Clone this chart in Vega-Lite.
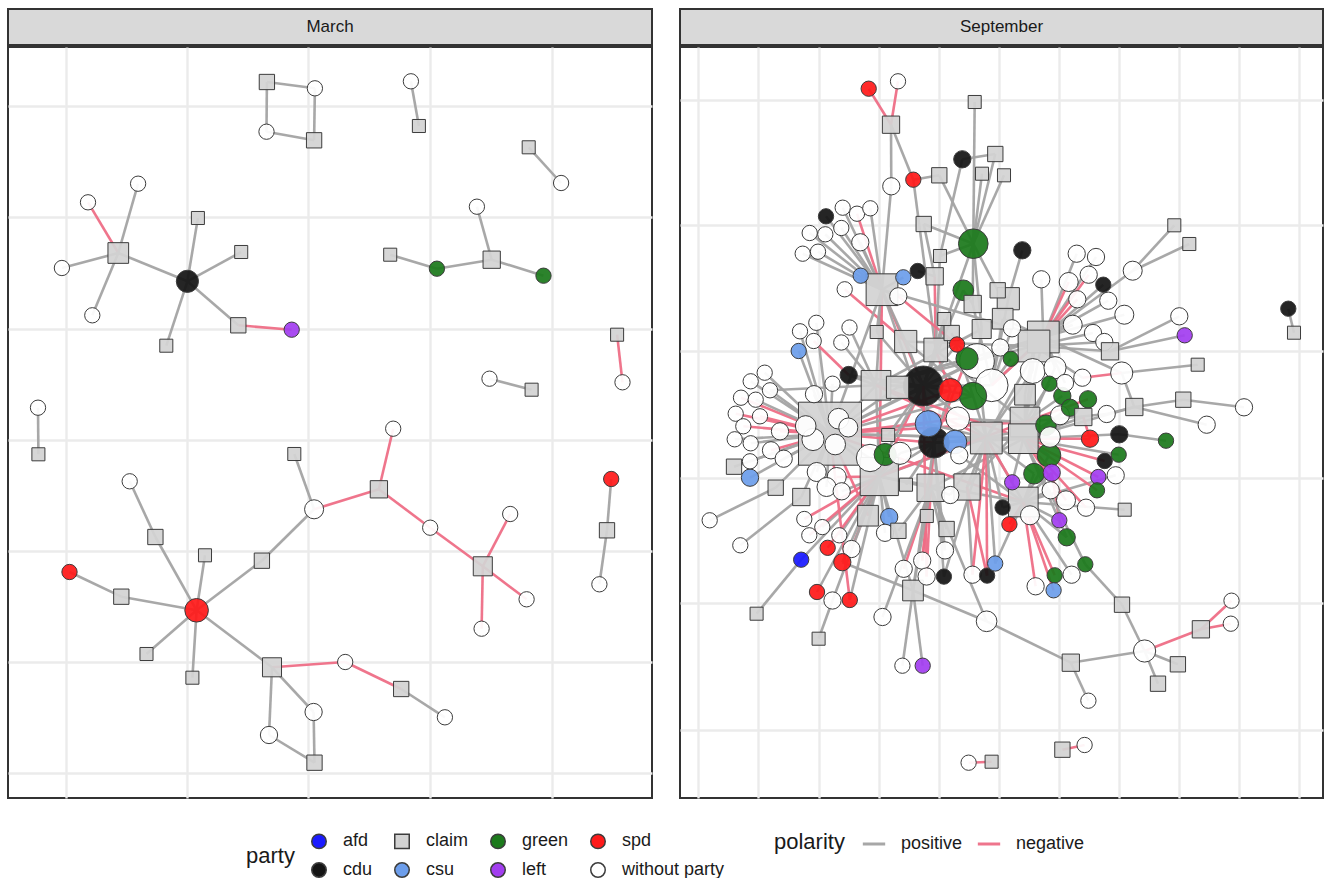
{
"$schema": "https://vega.github.io/schema/vega-lite/v6.json",
"padding": {"left": 7, "top": 8, "right": 0, "bottom": 0},
"config": {"font": "Liberation Sans", "view": {"stroke": "#333333", "strokeWidth": 2}},
"datasets": {
"mNodes": [
{"id":"m1","x":266.4,"y":80,"party":"claim","degree":2},
{"id":"m2","x":314.4,"y":86.3,"party":"without party","degree":2},
{"id":"m3","x":266,"y":129.7,"party":"without party","degree":2},
{"id":"m4","x":313.6,"y":138.3,"party":"claim","degree":2},
{"id":"m5","x":410.4,"y":79.3,"party":"without party","degree":2},
{"id":"m6","x":418.4,"y":124,"party":"claim","degree":1},
{"id":"m7","x":528.2,"y":145.3,"party":"claim","degree":1},
{"id":"m8","x":560.6,"y":181,"party":"without party","degree":2},
{"id":"m9","x":117.8,"y":251,"party":"claim","degree":5},
{"id":"m10","x":87.5,"y":200.3,"party":"without party","degree":2},
{"id":"m11","x":137.6,"y":181.7,"party":"without party","degree":2},
{"id":"m12","x":61.4,"y":266,"party":"without party","degree":2},
{"id":"m13","x":91.8,"y":313.3,"party":"without party","degree":2},
{"id":"m14","x":186.9,"y":279.3,"party":"cdu","degree":6},
{"id":"m15","x":197.4,"y":216,"party":"claim","degree":1},
{"id":"m16","x":240.7,"y":250,"party":"claim","degree":1},
{"id":"m17","x":237.8,"y":323.3,"party":"claim","degree":2},
{"id":"m18","x":291.2,"y":327.7,"party":"left","degree":2},
{"id":"m19","x":165.8,"y":343.7,"party":"claim","degree":1},
{"id":"m20","x":389.7,"y":252.7,"party":"claim","degree":1},
{"id":"m21","x":436.4,"y":266.7,"party":"green","degree":2},
{"id":"m22","x":491.2,"y":257.7,"party":"claim","degree":3},
{"id":"m23","x":476.4,"y":204.7,"party":"without party","degree":2},
{"id":"m24","x":543,"y":273.7,"party":"green","degree":2},
{"id":"m25","x":616.6,"y":332.7,"party":"claim","degree":1},
{"id":"m26","x":622,"y":380.3,"party":"without party","degree":2},
{"id":"m27","x":489,"y":376.7,"party":"without party","degree":2},
{"id":"m28","x":531.1,"y":387.7,"party":"claim","degree":1},
{"id":"m29","x":37.5,"y":405.7,"party":"without party","degree":2},
{"id":"m30","x":37.9,"y":452.3,"party":"claim","degree":1},
{"id":"m31","x":293.8,"y":452,"party":"claim","degree":1},
{"id":"m32","x":129.2,"y":479.3,"party":"without party","degree":2},
{"id":"m33","x":154.9,"y":535,"party":"claim","degree":2},
{"id":"m34","x":204.5,"y":553.3,"party":"claim","degree":1},
{"id":"m35","x":261.4,"y":558.7,"party":"claim","degree":2},
{"id":"m36","x":313.6,"y":507.3,"party":"without party","degree":4},
{"id":"m37","x":378.4,"y":487.3,"party":"claim","degree":3},
{"id":"m38","x":392.7,"y":426.7,"party":"without party","degree":2},
{"id":"m39","x":429.7,"y":525.7,"party":"without party","degree":2},
{"id":"m40","x":482.3,"y":564.3,"party":"claim","degree":4},
{"id":"m41","x":509.7,"y":512,"party":"without party","degree":2},
{"id":"m42","x":526.1,"y":597.3,"party":"without party","degree":2},
{"id":"m43","x":481.1,"y":626.7,"party":"without party","degree":2},
{"id":"m44","x":69,"y":570,"party":"spd","degree":2},
{"id":"m45","x":120.8,"y":594.7,"party":"claim","degree":2},
{"id":"m46","x":196.1,"y":608.3,"party":"spd","degree":7},
{"id":"m47","x":146,"y":652,"party":"claim","degree":1},
{"id":"m48","x":191.9,"y":675.7,"party":"claim","degree":1},
{"id":"m49","x":271.5,"y":665.3,"party":"claim","degree":4},
{"id":"m50","x":344.7,"y":660,"party":"without party","degree":2},
{"id":"m51","x":400.7,"y":687,"party":"claim","degree":2},
{"id":"m52","x":444.4,"y":715.3,"party":"without party","degree":2},
{"id":"m53","x":313.1,"y":710,"party":"without party","degree":3},
{"id":"m54","x":268.5,"y":733,"party":"without party","degree":3},
{"id":"m55","x":314,"y":760.7,"party":"claim","degree":2},
{"id":"m56","x":610.7,"y":477,"party":"spd","degree":2},
{"id":"m57","x":606.5,"y":528.3,"party":"claim","degree":2},
{"id":"m58","x":598.9,"y":582.3,"party":"without party","degree":2}
],
"mEdges": [
{"source":"m1","target":"m2","polarity":"positive"},
{"source":"m1","target":"m3","polarity":"positive"},
{"source":"m2","target":"m4","polarity":"positive"},
{"source":"m3","target":"m4","polarity":"positive"},
{"source":"m5","target":"m6","polarity":"positive"},
{"source":"m7","target":"m8","polarity":"positive"},
{"source":"m9","target":"m10","polarity":"negative"},
{"source":"m9","target":"m11","polarity":"positive"},
{"source":"m9","target":"m12","polarity":"positive"},
{"source":"m9","target":"m13","polarity":"positive"},
{"source":"m9","target":"m14","polarity":"positive"},
{"source":"m14","target":"m15","polarity":"positive"},
{"source":"m14","target":"m16","polarity":"positive"},
{"source":"m14","target":"m17","polarity":"positive"},
{"source":"m14","target":"m19","polarity":"positive"},
{"source":"m17","target":"m18","polarity":"negative"},
{"source":"m20","target":"m21","polarity":"positive"},
{"source":"m21","target":"m22","polarity":"positive"},
{"source":"m22","target":"m23","polarity":"positive"},
{"source":"m22","target":"m24","polarity":"positive"},
{"source":"m25","target":"m26","polarity":"negative"},
{"source":"m27","target":"m28","polarity":"positive"},
{"source":"m29","target":"m30","polarity":"positive"},
{"source":"m31","target":"m36","polarity":"positive"},
{"source":"m32","target":"m33","polarity":"positive"},
{"source":"m33","target":"m46","polarity":"positive"},
{"source":"m34","target":"m46","polarity":"positive"},
{"source":"m35","target":"m46","polarity":"positive"},
{"source":"m35","target":"m36","polarity":"positive"},
{"source":"m36","target":"m37","polarity":"negative"},
{"source":"m37","target":"m38","polarity":"negative"},
{"source":"m37","target":"m39","polarity":"negative"},
{"source":"m39","target":"m40","polarity":"negative"},
{"source":"m40","target":"m41","polarity":"negative"},
{"source":"m40","target":"m42","polarity":"negative"},
{"source":"m40","target":"m43","polarity":"negative"},
{"source":"m44","target":"m45","polarity":"positive"},
{"source":"m45","target":"m46","polarity":"positive"},
{"source":"m46","target":"m47","polarity":"positive"},
{"source":"m46","target":"m48","polarity":"positive"},
{"source":"m46","target":"m49","polarity":"positive"},
{"source":"m49","target":"m50","polarity":"negative"},
{"source":"m50","target":"m51","polarity":"negative"},
{"source":"m51","target":"m52","polarity":"positive"},
{"source":"m49","target":"m53","polarity":"positive"},
{"source":"m49","target":"m54","polarity":"positive"},
{"source":"m53","target":"m55","polarity":"positive"},
{"source":"m54","target":"m55","polarity":"positive"},
{"source":"m56","target":"m57","polarity":"positive"},
{"source":"m57","target":"m58","polarity":"positive"}
],
"sNodes": [
{"id":"s1","x":868.7,"y":86.7,"party":"spd","degree":2},
{"id":"s2","x":898,"y":79.3,"party":"without party","degree":2},
{"id":"s3","x":891,"y":122.7,"party":"claim","degree":3},
{"id":"s4","x":891.3,"y":184.3,"party":"without party","degree":3},
{"id":"s5","x":913.3,"y":177.7,"party":"spd","degree":2},
{"id":"s6","x":939.3,"y":173.3,"party":"claim","degree":2},
{"id":"s7","x":974.7,"y":100,"party":"claim","degree":1},
{"id":"s8","x":962.3,"y":157.3,"party":"cdu","degree":3},
{"id":"s9","x":995.3,"y":152,"party":"claim","degree":2},
{"id":"s10","x":982,"y":171.7,"party":"claim","degree":1},
{"id":"s11","x":1004,"y":173.3,"party":"claim","degree":1},
{"id":"s12","x":923.7,"y":222,"party":"claim","degree":2},
{"id":"s13","x":973.3,"y":241.7,"party":"green","degree":12},
{"id":"s14","x":940,"y":254,"party":"claim","degree":1},
{"id":"s15","x":917.7,"y":269,"party":"cdu","degree":2},
{"id":"s16","x":934.7,"y":274.3,"party":"claim","degree":3},
{"id":"s17","x":963.3,"y":288.3,"party":"green","degree":5},
{"id":"s18","x":997.7,"y":288.3,"party":"claim","degree":2},
{"id":"s19","x":972.7,"y":302,"party":"claim","degree":3},
{"id":"s20","x":981.7,"y":327,"party":"claim","degree":4},
{"id":"s21","x":944.3,"y":317,"party":"claim","degree":1},
{"id":"s22","x":951.7,"y":331,"party":"claim","degree":2},
{"id":"s23","x":898.3,"y":294.3,"party":"without party","degree":3},
{"id":"s24","x":860.7,"y":273.7,"party":"csu","degree":2},
{"id":"s25","x":903.3,"y":275.3,"party":"csu","degree":2},
{"id":"s26","x":882,"y":287.7,"party":"claim","degree":14},
{"id":"s27","x":826,"y":214.3,"party":"cdu","degree":2},
{"id":"s28","x":842.7,"y":205.7,"party":"without party","degree":2},
{"id":"s29","x":857,"y":211.7,"party":"without party","degree":2},
{"id":"s30","x":870.3,"y":206.3,"party":"without party","degree":2},
{"id":"s31","x":809.7,"y":231,"party":"without party","degree":2},
{"id":"s32","x":825.3,"y":232.3,"party":"without party","degree":2},
{"id":"s33","x":841.3,"y":226,"party":"without party","degree":2},
{"id":"s34","x":860.3,"y":240.3,"party":"without party","degree":3},
{"id":"s35","x":802.7,"y":251.7,"party":"without party","degree":2},
{"id":"s36","x":818,"y":249.7,"party":"without party","degree":2},
{"id":"s37","x":844.7,"y":287.3,"party":"without party","degree":2},
{"id":"s38","x":800,"y":329.3,"party":"without party","degree":2},
{"id":"s39","x":816.3,"y":320.8,"party":"without party","degree":2},
{"id":"s40","x":849.5,"y":325.5,"party":"without party","degree":2},
{"id":"s41","x":841.3,"y":340.5,"party":"without party","degree":2},
{"id":"s42","x":813.7,"y":339,"party":"without party","degree":2},
{"id":"s43","x":876.7,"y":330,"party":"claim","degree":1},
{"id":"s44","x":905.7,"y":339.5,"party":"claim","degree":6},
{"id":"s45","x":935.7,"y":348,"party":"claim","degree":7},
{"id":"s46","x":957,"y":342.5,"party":"spd","degree":2},
{"id":"s50","x":1012,"y":326.3,"party":"without party","degree":3},
{"id":"s51","x":1000.3,"y":345.5,"party":"without party","degree":3},
{"id":"s52","x":1010.8,"y":356.8,"party":"green","degree":2},
{"id":"s53","x":798.7,"y":349,"party":"csu","degree":2},
{"id":"s54","x":848.7,"y":373,"party":"cdu","degree":3},
{"id":"s55","x":832.5,"y":381.7,"party":"without party","degree":2},
{"id":"s56","x":814,"y":392.2,"party":"without party","degree":3},
{"id":"s57","x":876,"y":383.3,"party":"claim","degree":12},
{"id":"s58","x":897.5,"y":385.3,"party":"claim","degree":6},
{"id":"s59","x":923.3,"y":384,"party":"cdu","degree":23},
{"id":"s60","x":950.5,"y":388.3,"party":"spd","degree":7},
{"id":"s61","x":973,"y":394,"party":"green","degree":10},
{"id":"s62","x":991.7,"y":383.3,"party":"without party","degree":15},
{"id":"s63","x":977,"y":359,"party":"without party","degree":17},
{"id":"s64","x":967,"y":356.7,"party":"green","degree":6},
{"id":"s65","x":830,"y":431.7,"party":"claim","degree":60},
{"id":"s66","x":805.7,"y":424,"party":"without party","degree":5},
{"id":"s67","x":838.5,"y":416.7,"party":"without party","degree":5},
{"id":"s68","x":848.3,"y":425.5,"party":"without party","degree":4},
{"id":"s69","x":813,"y":437.5,"party":"without party","degree":6},
{"id":"s70","x":835.2,"y":442.5,"party":"without party","degree":5},
{"id":"s71","x":764.7,"y":370.7,"party":"without party","degree":2},
{"id":"s72","x":750.7,"y":379.3,"party":"without party","degree":2},
{"id":"s73","x":770,"y":388.3,"party":"without party","degree":2},
{"id":"s74","x":741,"y":395.7,"party":"without party","degree":2},
{"id":"s75","x":755.7,"y":397.7,"party":"without party","degree":2},
{"id":"s76","x":735.7,"y":411.7,"party":"without party","degree":2},
{"id":"s77","x":760,"y":414.3,"party":"without party","degree":2},
{"id":"s78","x":743.3,"y":424.3,"party":"without party","degree":2},
{"id":"s79","x":780,"y":429.3,"party":"without party","degree":3},
{"id":"s80","x":734.7,"y":437.3,"party":"without party","degree":2},
{"id":"s81","x":750.7,"y":441.3,"party":"without party","degree":2},
{"id":"s82","x":771,"y":448.3,"party":"without party","degree":3},
{"id":"s83","x":783.7,"y":456.7,"party":"without party","degree":3},
{"id":"s84","x":750,"y":459.3,"party":"without party","degree":2},
{"id":"s85","x":734,"y":464.7,"party":"claim","degree":2},
{"id":"s86","x":750,"y":475.7,"party":"csu","degree":3},
{"id":"s87","x":775.7,"y":485.7,"party":"claim","degree":2},
{"id":"s88","x":801.3,"y":495,"party":"claim","degree":3},
{"id":"s89","x":816.7,"y":470,"party":"without party","degree":4},
{"id":"s90","x":836.7,"y":475,"party":"without party","degree":4},
{"id":"s91","x":826.5,"y":485,"party":"without party","degree":4},
{"id":"s92","x":841.7,"y":489.3,"party":"without party","degree":3},
{"id":"s93","x":709.7,"y":518.3,"party":"without party","degree":2},
{"id":"s94","x":740.3,"y":543.3,"party":"without party","degree":2},
{"id":"s95","x":870,"y":456,"party":"without party","degree":10},
{"id":"s96","x":885.2,"y":452.5,"party":"green","degree":6},
{"id":"s97","x":900,"y":451.3,"party":"without party","degree":6},
{"id":"s98","x":879.3,"y":474.5,"party":"claim","degree":21},
{"id":"s99","x":928.3,"y":421.7,"party":"csu","degree":9},
{"id":"s100","x":934,"y":440.7,"party":"cdu","degree":13},
{"id":"s101","x":955,"y":440,"party":"csu","degree":7},
{"id":"s102","x":959.3,"y":453.3,"party":"without party","degree":3},
{"id":"s103","x":957.8,"y":416.7,"party":"without party","degree":7},
{"id":"s104","x":986.3,"y":436,"party":"claim","degree":14},
{"id":"s105","x":888.2,"y":433,"party":"claim","degree":1},
{"id":"s106","x":906,"y":482.7,"party":"claim","degree":1},
{"id":"s107","x":930.7,"y":485.8,"party":"claim","degree":10},
{"id":"s108","x":967,"y":485,"party":"claim","degree":9},
{"id":"s109","x":950.3,"y":493,"party":"without party","degree":3},
{"id":"s110","x":1012.2,"y":480.3,"party":"left","degree":2},
{"id":"s111","x":1002.6,"y":505.5,"party":"cdu","degree":2},
{"id":"s112","x":1009.4,"y":522.3,"party":"spd","degree":2},
{"id":"s113","x":868,"y":513.7,"party":"claim","degree":5},
{"id":"s114","x":889.2,"y":515,"party":"csu","degree":3},
{"id":"s115","x":885,"y":530.8,"party":"without party","degree":3},
{"id":"s116","x":898.4,"y":528.8,"party":"claim","degree":2},
{"id":"s117","x":926.8,"y":514,"party":"claim","degree":1},
{"id":"s118","x":946.6,"y":527,"party":"claim","degree":2},
{"id":"s119","x":945,"y":548.4,"party":"without party","degree":3},
{"id":"s120","x":804.3,"y":517,"party":"without party","degree":2},
{"id":"s121","x":822.3,"y":525.1,"party":"without party","degree":2},
{"id":"s122","x":809.3,"y":533.3,"party":"without party","degree":2},
{"id":"s123","x":839.3,"y":533.3,"party":"without party","degree":2},
{"id":"s124","x":851.5,"y":547,"party":"without party","degree":3},
{"id":"s125","x":827.7,"y":545.8,"party":"spd","degree":2},
{"id":"s126","x":842.3,"y":560.2,"party":"spd","degree":3},
{"id":"s127","x":801.2,"y":557.7,"party":"afd","degree":2},
{"id":"s128","x":903.7,"y":566.8,"party":"without party","degree":3},
{"id":"s129","x":922.2,"y":558.6,"party":"without party","degree":3},
{"id":"s130","x":926.6,"y":574.5,"party":"without party","degree":3},
{"id":"s131","x":943.9,"y":574.6,"party":"cdu","degree":2},
{"id":"s132","x":972.5,"y":572.7,"party":"without party","degree":3},
{"id":"s133","x":987.1,"y":573.6,"party":"cdu","degree":2},
{"id":"s134","x":995.2,"y":561.5,"party":"csu","degree":2},
{"id":"s135","x":913,"y":588.5,"party":"claim","degree":5},
{"id":"s136","x":817,"y":590,"party":"spd","degree":2},
{"id":"s137","x":832.5,"y":598.5,"party":"without party","degree":3},
{"id":"s138","x":849.8,"y":598,"party":"spd","degree":2},
{"id":"s139","x":756.6,"y":611.7,"party":"claim","degree":1},
{"id":"s140","x":818.6,"y":636.7,"party":"claim","degree":1},
{"id":"s141","x":882.5,"y":615,"party":"without party","degree":3},
{"id":"s142","x":902.4,"y":663.7,"party":"without party","degree":2},
{"id":"s143","x":922.7,"y":663.7,"party":"left","degree":2},
{"id":"s144","x":986.6,"y":619.3,"party":"without party","degree":5},
{"id":"s145","x":1070.8,"y":660.7,"party":"claim","degree":3},
{"id":"s146","x":1144.6,"y":649,"party":"without party","degree":6},
{"id":"s147","x":1122,"y":602.7,"party":"claim","degree":2},
{"id":"s148","x":1200.9,"y":627.3,"party":"claim","degree":3},
{"id":"s149","x":1231.5,"y":598.7,"party":"without party","degree":2},
{"id":"s150","x":1230.8,"y":621.7,"party":"without party","degree":2},
{"id":"s151","x":1177.9,"y":662.3,"party":"claim","degree":2},
{"id":"s152","x":1158,"y":681.7,"party":"claim","degree":2},
{"id":"s153","x":1088.4,"y":698.7,"party":"without party","degree":2},
{"id":"s154","x":968.6,"y":760.7,"party":"without party","degree":2},
{"id":"s155","x":991.6,"y":759.7,"party":"claim","degree":1},
{"id":"s156","x":1062.4,"y":747.7,"party":"claim","degree":2},
{"id":"s157","x":1084.6,"y":743,"party":"without party","degree":2},
{"id":"s158","x":1022.3,"y":248.3,"party":"cdu","degree":3},
{"id":"s159","x":1076.7,"y":251.7,"party":"without party","degree":3},
{"id":"s160","x":1096,"y":255,"party":"without party","degree":3},
{"id":"s161","x":1041.3,"y":277.3,"party":"without party","degree":3},
{"id":"s162","x":1068.7,"y":280,"party":"without party","degree":4},
{"id":"s163","x":1088.7,"y":272.7,"party":"without party","degree":3},
{"id":"s164","x":1103.3,"y":282.7,"party":"cdu","degree":2},
{"id":"s165","x":1077.3,"y":297.3,"party":"without party","degree":3},
{"id":"s166","x":1108.3,"y":298.7,"party":"without party","degree":3},
{"id":"s167","x":1124.3,"y":312.7,"party":"without party","degree":4},
{"id":"s168","x":1072.7,"y":322.7,"party":"without party","degree":4},
{"id":"s169","x":1093,"y":331,"party":"without party","degree":3},
{"id":"s170","x":1104.3,"y":340,"party":"without party","degree":3},
{"id":"s171","x":1132.7,"y":268.7,"party":"without party","degree":4},
{"id":"s172","x":1174.3,"y":223.3,"party":"claim","degree":1},
{"id":"s173","x":1189.3,"y":242,"party":"claim","degree":1},
{"id":"s174","x":1179.3,"y":314.3,"party":"without party","degree":3},
{"id":"s175","x":1184.7,"y":333.3,"party":"left","degree":2},
{"id":"s176","x":1110,"y":349.3,"party":"claim","degree":3},
{"id":"s177","x":1121.7,"y":371,"party":"without party","degree":6},
{"id":"s178","x":1197.7,"y":362.7,"party":"claim","degree":1},
{"id":"s179","x":1183.3,"y":397.7,"party":"claim","degree":2},
{"id":"s180","x":1244,"y":405.3,"party":"without party","degree":3},
{"id":"s181","x":1206.7,"y":422.7,"party":"without party","degree":3},
{"id":"s182","x":1134.3,"y":405,"party":"claim","degree":3},
{"id":"s183","x":1106.7,"y":412,"party":"without party","degree":3},
{"id":"s184","x":1082.3,"y":375.7,"party":"without party","degree":3},
{"id":"s185","x":1166,"y":438.7,"party":"green","degree":2},
{"id":"s186","x":1119.3,"y":432.3,"party":"cdu","degree":3},
{"id":"s187","x":1090,"y":436.7,"party":"spd","degree":3},
{"id":"s188","x":1118.7,"y":452.7,"party":"green","degree":2},
{"id":"s189","x":1104.7,"y":459,"party":"cdu","degree":2},
{"id":"s190","x":1098.3,"y":475,"party":"left","degree":2},
{"id":"s191","x":1115.7,"y":473.3,"party":"without party","degree":3},
{"id":"s192","x":1097,"y":488.3,"party":"green","degree":2},
{"id":"s193","x":1124.7,"y":507.7,"party":"claim","degree":1},
{"id":"s194","x":1288.3,"y":306.7,"party":"cdu","degree":2},
{"id":"s195","x":1294,"y":330.7,"party":"claim","degree":1},
{"id":"s197","x":1008.3,"y":296.7,"party":"claim","degree":6},
{"id":"s198","x":1002.7,"y":316.7,"party":"claim","degree":5},
{"id":"s199","x":1043.3,"y":335,"party":"claim","degree":14},
{"id":"s200","x":1034,"y":344,"party":"claim","degree":14},
{"id":"s201","x":1032.7,"y":369,"party":"without party","degree":8},
{"id":"s202","x":1055,"y":365.7,"party":"without party","degree":6},
{"id":"s203","x":1025,"y":392.7,"party":"claim","degree":5},
{"id":"s204","x":1049.3,"y":381.7,"party":"green","degree":2},
{"id":"s205","x":1062.3,"y":394,"party":"green","degree":3},
{"id":"s206","x":1070,"y":405.7,"party":"green","degree":3},
{"id":"s207","x":1088,"y":397.3,"party":"green","degree":3},
{"id":"s208","x":1065,"y":381,"party":"without party","degree":3},
{"id":"s209","x":1060,"y":413.3,"party":"without party","degree":4},
{"id":"s210","x":1025,"y":420,"party":"claim","degree":12},
{"id":"s211","x":1023.3,"y":436.7,"party":"claim","degree":12},
{"id":"s212","x":1046,"y":423.3,"party":"green","degree":5},
{"id":"s213","x":1050,"y":435,"party":"without party","degree":5},
{"id":"s214","x":1049,"y":453.3,"party":"green","degree":7},
{"id":"s215","x":1051.7,"y":470.7,"party":"left","degree":3},
{"id":"s216","x":1034,"y":471.7,"party":"green","degree":5},
{"id":"s218","x":1023.3,"y":500,"party":"claim","degree":12},
{"id":"s219","x":1050.7,"y":488.3,"party":"without party","degree":3},
{"id":"s220","x":1066,"y":498.3,"party":"without party","degree":4},
{"id":"s221","x":1086,"y":505.7,"party":"without party","degree":3},
{"id":"s223","x":1030,"y":513.3,"party":"without party","degree":4},
{"id":"s224","x":1059.3,"y":518.3,"party":"left","degree":2},
{"id":"s225","x":1066.7,"y":535.3,"party":"green","degree":3},
{"id":"s227","x":1085.3,"y":562.3,"party":"green","degree":2},
{"id":"s228","x":1054.7,"y":573.3,"party":"green","degree":2},
{"id":"s229","x":1071.6,"y":572.7,"party":"without party","degree":3},
{"id":"s230","x":1035.6,"y":584.3,"party":"without party","degree":3},
{"id":"s231","x":1053.6,"y":588.3,"party":"csu","degree":2},
{"id":"s236","x":1083.3,"y":415,"party":"claim","degree":3}
],
"sEdges": [
{"source":"s1","target":"s3","polarity":"negative"},
{"source":"s2","target":"s3","polarity":"negative"},
{"source":"s3","target":"s4","polarity":"positive"},
{"source":"s3","target":"s5","polarity":"positive"},
{"source":"s5","target":"s6","polarity":"positive"},
{"source":"s5","target":"s45","polarity":"positive"},
{"source":"s4","target":"s26","polarity":"positive"},
{"source":"s6","target":"s13","polarity":"positive"},
{"source":"s7","target":"s13","polarity":"positive"},
{"source":"s8","target":"s9","polarity":"positive"},
{"source":"s8","target":"s14","polarity":"positive"},
{"source":"s9","target":"s13","polarity":"positive"},
{"source":"s10","target":"s13","polarity":"positive"},
{"source":"s11","target":"s13","polarity":"positive"},
{"source":"s12","target":"s13","polarity":"positive"},
{"source":"s12","target":"s16","polarity":"positive"},
{"source":"s13","target":"s14","polarity":"positive"},
{"source":"s13","target":"s20","polarity":"positive"},
{"source":"s13","target":"s19","polarity":"positive"},
{"source":"s13","target":"s59","polarity":"positive"},
{"source":"s13","target":"s18","polarity":"positive"},
{"source":"s15","target":"s16","polarity":"positive"},
{"source":"s16","target":"s45","polarity":"negative"},
{"source":"s14","target":"s45","polarity":"positive"},
{"source":"s17","target":"s19","polarity":"positive"},
{"source":"s17","target":"s59","polarity":"positive"},
{"source":"s18","target":"s197","polarity":"positive"},
{"source":"s27","target":"s26","polarity":"positive"},
{"source":"s28","target":"s26","polarity":"positive"},
{"source":"s29","target":"s26","polarity":"negative"},
{"source":"s30","target":"s26","polarity":"positive"},
{"source":"s31","target":"s26","polarity":"positive"},
{"source":"s32","target":"s26","polarity":"positive"},
{"source":"s33","target":"s26","polarity":"positive"},
{"source":"s34","target":"s26","polarity":"positive"},
{"source":"s35","target":"s26","polarity":"positive"},
{"source":"s36","target":"s26","polarity":"positive"},
{"source":"s24","target":"s26","polarity":"positive"},
{"source":"s25","target":"s26","polarity":"positive"},
{"source":"s23","target":"s26","polarity":"positive"},
{"source":"s37","target":"s44","polarity":"negative"},
{"source":"s23","target":"s46","polarity":"negative"},
{"source":"s26","target":"s57","polarity":"positive"},
{"source":"s26","target":"s59","polarity":"negative"},
{"source":"s26","target":"s44","polarity":"positive"},
{"source":"s26","target":"s100","polarity":"positive"},
{"source":"s26","target":"s98","polarity":"negative"},
{"source":"s26","target":"s65","polarity":"positive"},
{"source":"s39","target":"s65","polarity":"positive"},
{"source":"s38","target":"s65","polarity":"positive"},
{"source":"s40","target":"s57","polarity":"positive"},
{"source":"s41","target":"s57","polarity":"positive"},
{"source":"s42","target":"s54","polarity":"negative"},
{"source":"s43","target":"s59","polarity":"positive"},
{"source":"s43","target":"s26","polarity":"positive"},
{"source":"s53","target":"s65","polarity":"positive"},
{"source":"s54","target":"s57","polarity":"positive"},
{"source":"s54","target":"s59","polarity":"positive"},
{"source":"s55","target":"s65","polarity":"positive"},
{"source":"s56","target":"s65","polarity":"positive"},
{"source":"s44","target":"s59","polarity":"positive"},
{"source":"s44","target":"s61","polarity":"positive"},
{"source":"s45","target":"s59","polarity":"positive"},
{"source":"s45","target":"s60","polarity":"negative"},
{"source":"s21","target":"s59","polarity":"positive"},
{"source":"s22","target":"s61","polarity":"positive"},
{"source":"s46","target":"s59","polarity":"positive"},
{"source":"s46","target":"s63","polarity":"positive"},
{"source":"s20","target":"s63","polarity":"positive"},
{"source":"s20","target":"s57","polarity":"positive"},
{"source":"s19","target":"s62","polarity":"positive"},
{"source":"s197","target":"s62","polarity":"positive"},
{"source":"s198","target":"s62","polarity":"positive"},
{"source":"s198","target":"s199","polarity":"positive"},
{"source":"s50","target":"s62","polarity":"positive"},
{"source":"s51","target":"s63","polarity":"positive"},
{"source":"s52","target":"s62","polarity":"positive"},
{"source":"s64","target":"s57","polarity":"positive"},
{"source":"s64","target":"s100","polarity":"negative"},
{"source":"s57","target":"s65","polarity":"positive"},
{"source":"s57","target":"s59","polarity":"positive"},
{"source":"s57","target":"s98","polarity":"positive"},
{"source":"s57","target":"s104","polarity":"negative"},
{"source":"s58","target":"s59","polarity":"positive"},
{"source":"s58","target":"s65","polarity":"positive"},
{"source":"s59","target":"s100","polarity":"positive"},
{"source":"s59","target":"s104","polarity":"positive"},
{"source":"s59","target":"s61","polarity":"positive"},
{"source":"s59","target":"s62","polarity":"positive"},
{"source":"s59","target":"s63","polarity":"positive"},
{"source":"s59","target":"s98","polarity":"negative"},
{"source":"s59","target":"s65","polarity":"positive"},
{"source":"s60","target":"s65","polarity":"negative"},
{"source":"s60","target":"s100","polarity":"positive"},
{"source":"s61","target":"s104","polarity":"positive"},
{"source":"s61","target":"s65","polarity":"positive"},
{"source":"s62","target":"s199","polarity":"positive"},
{"source":"s62","target":"s200","polarity":"negative"},
{"source":"s63","target":"s65","polarity":"positive"},
{"source":"s63","target":"s199","polarity":"positive"},
{"source":"s63","target":"s104","polarity":"positive"},
{"source":"s65","target":"s100","polarity":"negative"},
{"source":"s65","target":"s99","polarity":"positive"},
{"source":"s65","target":"s98","polarity":"positive"},
{"source":"s65","target":"s104","polarity":"positive"},
{"source":"s65","target":"s210","polarity":"negative"},
{"source":"s65","target":"s103","polarity":"negative"},
{"source":"s98","target":"s100","polarity":"positive"},
{"source":"s98","target":"s104","polarity":"positive"},
{"source":"s98","target":"s107","polarity":"positive"},
{"source":"s99","target":"s104","polarity":"positive"},
{"source":"s100","target":"s104","polarity":"positive"},
{"source":"s100","target":"s211","polarity":"positive"},
{"source":"s100","target":"s107","polarity":"negative"},
{"source":"s101","target":"s211","polarity":"positive"},
{"source":"s102","target":"s218","polarity":"positive"},
{"source":"s103","target":"s210","polarity":"positive"},
{"source":"s104","target":"s199","polarity":"positive"},
{"source":"s104","target":"s218","polarity":"positive"},
{"source":"s104","target":"s211","polarity":"positive"},
{"source":"s104","target":"s108","polarity":"positive"},
{"source":"s107","target":"s211","polarity":"positive"},
{"source":"s108","target":"s210","polarity":"positive"},
{"source":"s199","target":"s210","polarity":"positive"},
{"source":"s200","target":"s211","polarity":"positive"},
{"source":"s57","target":"s199","polarity":"positive"},
{"source":"s57","target":"s200","polarity":"positive"},
{"source":"s26","target":"s199","polarity":"positive"},
{"source":"s44","target":"s200","polarity":"positive"},
{"source":"s45","target":"s210","polarity":"positive"},
{"source":"s65","target":"s211","polarity":"positive"},
{"source":"s65","target":"s218","polarity":"negative"},
{"source":"s98","target":"s218","polarity":"positive"},
{"source":"s98","target":"s210","polarity":"negative"},
{"source":"s57","target":"s211","polarity":"negative"},
{"source":"s71","target":"s65","polarity":"positive"},
{"source":"s72","target":"s65","polarity":"positive"},
{"source":"s73","target":"s65","polarity":"positive"},
{"source":"s74","target":"s65","polarity":"negative"},
{"source":"s75","target":"s65","polarity":"positive"},
{"source":"s76","target":"s65","polarity":"negative"},
{"source":"s77","target":"s65","polarity":"negative"},
{"source":"s78","target":"s65","polarity":"negative"},
{"source":"s79","target":"s65","polarity":"negative"},
{"source":"s80","target":"s65","polarity":"positive"},
{"source":"s81","target":"s65","polarity":"positive"},
{"source":"s82","target":"s65","polarity":"negative"},
{"source":"s83","target":"s65","polarity":"positive"},
{"source":"s84","target":"s65","polarity":"positive"},
{"source":"s85","target":"s65","polarity":"positive"},
{"source":"s86","target":"s65","polarity":"positive"},
{"source":"s87","target":"s65","polarity":"positive"},
{"source":"s93","target":"s87","polarity":"positive"},
{"source":"s88","target":"s65","polarity":"positive"},
{"source":"s94","target":"s88","polarity":"positive"},
{"source":"s89","target":"s65","polarity":"positive"},
{"source":"s90","target":"s98","polarity":"negative"},
{"source":"s91","target":"s65","polarity":"positive"},
{"source":"s92","target":"s98","polarity":"positive"},
{"source":"s66","target":"s65","polarity":"positive"},
{"source":"s67","target":"s65","polarity":"positive"},
{"source":"s68","target":"s65","polarity":"positive"},
{"source":"s69","target":"s65","polarity":"positive"},
{"source":"s70","target":"s65","polarity":"positive"},
{"source":"s73","target":"s57","polarity":"positive"},
{"source":"s95","target":"s98","polarity":"positive"},
{"source":"s95","target":"s65","polarity":"positive"},
{"source":"s96","target":"s98","polarity":"positive"},
{"source":"s96","target":"s59","polarity":"positive"},
{"source":"s97","target":"s98","polarity":"positive"},
{"source":"s97","target":"s100","polarity":"positive"},
{"source":"s105","target":"s59","polarity":"positive"},
{"source":"s106","target":"s100","polarity":"positive"},
{"source":"s109","target":"s107","polarity":"positive"},
{"source":"s109","target":"s104","polarity":"positive"},
{"source":"s110","target":"s104","polarity":"negative"},
{"source":"s110","target":"s211","polarity":"positive"},
{"source":"s111","target":"s218","polarity":"positive"},
{"source":"s111","target":"s104","polarity":"positive"},
{"source":"s112","target":"s218","polarity":"negative"},
{"source":"s113","target":"s98","polarity":"positive"},
{"source":"s113","target":"s65","polarity":"negative"},
{"source":"s114","target":"s98","polarity":"positive"},
{"source":"s115","target":"s98","polarity":"positive"},
{"source":"s116","target":"s107","polarity":"positive"},
{"source":"s117","target":"s100","polarity":"positive"},
{"source":"s118","target":"s107","polarity":"positive"},
{"source":"s119","target":"s107","polarity":"positive"},
{"source":"s119","target":"s100","polarity":"positive"},
{"source":"s120","target":"s98","polarity":"negative"},
{"source":"s121","target":"s98","polarity":"positive"},
{"source":"s122","target":"s98","polarity":"negative"},
{"source":"s123","target":"s98","polarity":"positive"},
{"source":"s124","target":"s98","polarity":"negative"},
{"source":"s125","target":"s98","polarity":"negative"},
{"source":"s126","target":"s98","polarity":"positive"},
{"source":"s127","target":"s98","polarity":"positive"},
{"source":"s127","target":"s139","polarity":"positive"},
{"source":"s128","target":"s107","polarity":"negative"},
{"source":"s129","target":"s107","polarity":"negative"},
{"source":"s130","target":"s107","polarity":"negative"},
{"source":"s129","target":"s100","polarity":"negative"},
{"source":"s130","target":"s59","polarity":"negative"},
{"source":"s131","target":"s104","polarity":"positive"},
{"source":"s131","target":"s100","polarity":"positive"},
{"source":"s132","target":"s108","polarity":"positive"},
{"source":"s132","target":"s104","polarity":"negative"},
{"source":"s133","target":"s108","polarity":"negative"},
{"source":"s133","target":"s104","polarity":"negative"},
{"source":"s134","target":"s218","polarity":"positive"},
{"source":"s134","target":"s104","polarity":"positive"},
{"source":"s135","target":"s98","polarity":"positive"},
{"source":"s135","target":"s100","polarity":"positive"},
{"source":"s126","target":"s135","polarity":"positive"},
{"source":"s135","target":"s144","polarity":"positive"},
{"source":"s135","target":"s142","polarity":"positive"},
{"source":"s135","target":"s143","polarity":"positive"},
{"source":"s135","target":"s107","polarity":"positive"},
{"source":"s136","target":"s98","polarity":"positive"},
{"source":"s137","target":"s98","polarity":"positive"},
{"source":"s137","target":"s140","polarity":"positive"},
{"source":"s138","target":"s98","polarity":"positive"},
{"source":"s138","target":"s65","polarity":"negative"},
{"source":"s141","target":"s107","polarity":"positive"},
{"source":"s144","target":"s107","polarity":"positive"},
{"source":"s144","target":"s145","polarity":"positive"},
{"source":"s145","target":"s146","polarity":"positive"},
{"source":"s145","target":"s153","polarity":"positive"},
{"source":"s146","target":"s147","polarity":"positive"},
{"source":"s147","target":"s227","polarity":"positive"},
{"source":"s146","target":"s148","polarity":"negative"},
{"source":"s148","target":"s149","polarity":"negative"},
{"source":"s148","target":"s150","polarity":"negative"},
{"source":"s146","target":"s151","polarity":"positive"},
{"source":"s146","target":"s152","polarity":"positive"},
{"source":"s154","target":"s155","polarity":"negative"},
{"source":"s156","target":"s157","polarity":"negative"},
{"source":"s158","target":"s197","polarity":"positive"},
{"source":"s159","target":"s199","polarity":"positive"},
{"source":"s160","target":"s199","polarity":"positive"},
{"source":"s161","target":"s199","polarity":"positive"},
{"source":"s162","target":"s199","polarity":"negative"},
{"source":"s163","target":"s199","polarity":"negative"},
{"source":"s164","target":"s199","polarity":"positive"},
{"source":"s165","target":"s199","polarity":"negative"},
{"source":"s166","target":"s199","polarity":"positive"},
{"source":"s167","target":"s199","polarity":"positive"},
{"source":"s168","target":"s199","polarity":"positive"},
{"source":"s169","target":"s200","polarity":"positive"},
{"source":"s170","target":"s200","polarity":"positive"},
{"source":"s171","target":"s199","polarity":"positive"},
{"source":"s171","target":"s172","polarity":"positive"},
{"source":"s171","target":"s173","polarity":"positive"},
{"source":"s174","target":"s176","polarity":"positive"},
{"source":"s175","target":"s176","polarity":"positive"},
{"source":"s176","target":"s200","polarity":"positive"},
{"source":"s177","target":"s199","polarity":"positive"},
{"source":"s177","target":"s178","polarity":"positive"},
{"source":"s177","target":"s184","polarity":"negative"},
{"source":"s177","target":"s182","polarity":"positive"},
{"source":"s179","target":"s180","polarity":"positive"},
{"source":"s179","target":"s182","polarity":"positive"},
{"source":"s181","target":"s182","polarity":"positive"},
{"source":"s182","target":"s183","polarity":"positive"},
{"source":"s182","target":"s211","polarity":"positive"},
{"source":"s185","target":"s186","polarity":"positive"},
{"source":"s184","target":"s200","polarity":"positive"},
{"source":"s183","target":"s210","polarity":"positive"},
{"source":"s186","target":"s211","polarity":"positive"},
{"source":"s187","target":"s211","polarity":"negative"},
{"source":"s188","target":"s211","polarity":"positive"},
{"source":"s189","target":"s211","polarity":"negative"},
{"source":"s190","target":"s211","polarity":"negative"},
{"source":"s191","target":"s218","polarity":"positive"},
{"source":"s192","target":"s211","polarity":"negative"},
{"source":"s193","target":"s218","polarity":"positive"},
{"source":"s194","target":"s195","polarity":"positive"},
{"source":"s201","target":"s200","polarity":"positive"},
{"source":"s201","target":"s104","polarity":"positive"},
{"source":"s202","target":"s199","polarity":"positive"},
{"source":"s202","target":"s211","polarity":"positive"},
{"source":"s203","target":"s210","polarity":"positive"},
{"source":"s203","target":"s200","polarity":"positive"},
{"source":"s204","target":"s210","polarity":"positive"},
{"source":"s205","target":"s210","polarity":"positive"},
{"source":"s206","target":"s211","polarity":"positive"},
{"source":"s207","target":"s210","polarity":"negative"},
{"source":"s208","target":"s199","polarity":"positive"},
{"source":"s209","target":"s211","polarity":"positive"},
{"source":"s212","target":"s211","polarity":"positive"},
{"source":"s212","target":"s104","polarity":"positive"},
{"source":"s213","target":"s104","polarity":"positive"},
{"source":"s214","target":"s211","polarity":"positive"},
{"source":"s214","target":"s218","polarity":"positive"},
{"source":"s215","target":"s218","polarity":"positive"},
{"source":"s215","target":"s224","polarity":"negative"},
{"source":"s216","target":"s218","polarity":"positive"},
{"source":"s216","target":"s104","polarity":"positive"},
{"source":"s219","target":"s218","polarity":"positive"},
{"source":"s220","target":"s211","polarity":"negative"},
{"source":"s221","target":"s211","polarity":"negative"},
{"source":"s223","target":"s218","polarity":"positive"},
{"source":"s224","target":"s218","polarity":"positive"},
{"source":"s225","target":"s218","polarity":"positive"},
{"source":"s225","target":"s211","polarity":"positive"},
{"source":"s227","target":"s211","polarity":"positive"},
{"source":"s228","target":"s218","polarity":"negative"},
{"source":"s229","target":"s218","polarity":"positive"},
{"source":"s230","target":"s218","polarity":"negative"},
{"source":"s231","target":"s218","polarity":"negative"},
{"source":"s236","target":"s211","polarity":"positive"},
{"source":"s236","target":"s187","polarity":"negative"}
]
},
"resolve": {"scale": {"fill": "shared", "shape": "shared", "size": "shared", "stroke": "shared"}},
"spacing": 26,
"hconcat": [
{
"spacing": 0,
"resolve": {"scale": {"fill": "shared", "shape": "shared", "size": "shared", "stroke": "shared"}},
"vconcat": [
{"width": 644, "height": 36, "data": {"values": [{"label": "March"}]},
 "view": {"fill": "#d9d9d9", "stroke": "#333333", "strokeWidth": 2},
 "mark": {"type": "text", "fontSize": 17, "color": "#1a1a1a", "font": "Liberation Sans"},
 "encoding": {"text": {"field": "label"}}},
{"width": 644, "height": 751,
 "layer": [
  {"data": {"name": "mEdges"},
   "transform": [
    {"lookup": "source", "from": {"data": {"name": "mNodes"}, "key": "id", "fields": ["x", "y"]}, "as": ["sx", "sy"]},
    {"lookup": "target", "from": {"data": {"name": "mNodes"}, "key": "id", "fields": ["x", "y"]}, "as": ["tx", "ty"]}
   ],
   "mark": {"type": "rule", "strokeWidth": 2.6, "opacity": 0.95},
   "encoding": {
    "x": {"field": "sx", "type": "quantitative", "scale": {"domain": [7.5, 651.5], "nice": false, "zero": false}, "axis": {"values": [65.2, 186.5, 307.7, 429.3, 551], "grid": true, "labels": false, "ticks": false, "domain": false, "title": null, "gridColor": "#ebebeb", "gridWidth": 2.4}},
    "y": {"field": "sy", "type": "quantitative", "scale": {"domain": [45, 796], "nice": false, "zero": false, "reverse": true}, "axis": {"values": [104.3, 215.4, 326.5, 437.6, 548.7, 659.8, 770.9], "grid": true, "labels": false, "ticks": false, "domain": false, "title": null, "gridColor": "#ebebeb", "gridWidth": 2.4}},
    "x2": {"field": "tx"},
    "y2": {"field": "ty"},
    "stroke": {"field": "polarity", "type": "nominal", "scale": {"domain": ["positive", "negative"], "range": ["#a3a3a3", "#ee6e86"]},
      "legend": {"title": "polarity", "orient": "none", "legendX": 766, "legendY": 822, "direction": "horizontal", "titleOrient": "left", "titleFontSize": 22, "titleFontWeight": "normal", "titleColor": "#1a1a1a", "titlePadding": 16, "titleBaseline": "middle", "titleAnchor": "middle", "labelFontSize": 18, "labelColor": "#1a1a1a", "labelOffset": 14, "symbolType": "stroke", "symbolSize": 500, "symbolStrokeWidth": 3, "columnPadding": 8}}
   }},
  {"data": {"name": "mNodes"},
   "mark": {"type": "point", "filled": true, "stroke": "#3c3c3c", "strokeWidth": 1, "fillOpacity": 0.93},
   "encoding": {
    "x": {"field": "x", "type": "quantitative", "scale": {"domain": [7.5, 651.5], "nice": false, "zero": false}, "axis": {"values": [65.2, 186.5, 307.7, 429.3, 551], "grid": true, "labels": false, "ticks": false, "domain": false, "title": null, "gridColor": "#ebebeb", "gridWidth": 2.4}},
    "y": {"field": "y", "type": "quantitative", "scale": {"domain": [45, 796], "nice": false, "zero": false, "reverse": true}, "axis": {"values": [104.3, 215.4, 326.5, 437.6, 548.7, 659.8, 770.9], "grid": true, "labels": false, "ticks": false, "domain": false, "title": null, "gridColor": "#ebebeb", "gridWidth": 2.4}},
    "fill": {"field": "party", "type": "nominal", "scale": {"domain": ["afd", "claim", "green", "spd", "cdu", "csu", "left", "without party"], "range": ["#1a1aff", "#d3d3d3", "#1c7a1c", "#ff1a1a", "#141414", "#6d9eeb", "#a23ef0", "#ffffff"]},
      "legend": {"title": "party", "orient": "none", "legendX": 238, "legendY": 823, "direction": "horizontal", "columns": 4, "titleOrient": "left", "titleFontSize": 22, "titleFontWeight": "normal", "titleColor": "#1a1a1a", "titlePadding": 15, "titleBaseline": "middle", "titleAnchor": "middle", "labelFontSize": 18, "labelColor": "#1a1a1a", "labelOffset": 15, "symbolSize": 210, "columnPadding": 18, "rowPadding": 7,
        "encode": {"symbols": {"update": {"stroke": {"value": "#3c3c3c"}, "strokeWidth": {"value": 1}}}}}},
    "shape": {"field": "party", "type": "nominal", "scale": {"domain": ["afd", "claim", "green", "spd", "cdu", "csu", "left", "without party"], "range": ["circle", "square", "circle", "circle", "circle", "circle", "circle", "circle"]},
      "legend": {"title": "party", "orient": "none", "legendX": 238, "legendY": 823, "direction": "horizontal", "columns": 4, "titleOrient": "left", "titleFontSize": 22, "titleFontWeight": "normal", "titleColor": "#1a1a1a", "titlePadding": 15, "titleBaseline": "middle", "titleAnchor": "middle", "labelFontSize": 18, "labelColor": "#1a1a1a", "labelOffset": 15, "symbolSize": 210, "columnPadding": 18, "rowPadding": 7,
        "encode": {"symbols": {"update": {"stroke": {"value": "#3c3c3c"}, "strokeWidth": {"value": 1}}}}}},
    "size": {"field": "degree", "type": "quantitative", "scale": {"domain": [1, 60], "range": [170, 3969], "zero": false}, "legend": null},
    "order": {"field": "degree", "sort": "descending"}
   }}
 ]}
]
},
{
"spacing": 0,
"resolve": {"scale": {"fill": "shared", "shape": "shared", "size": "shared", "stroke": "shared"}},
"vconcat": [
{"width": 643, "height": 36, "data": {"values": [{"label": "September"}]},
 "view": {"fill": "#d9d9d9", "stroke": "#333333", "strokeWidth": 2},
 "mark": {"type": "text", "fontSize": 17, "color": "#1a1a1a", "font": "Liberation Sans"},
 "encoding": {"text": {"field": "label"}}},
{"width": 643, "height": 751,
 "layer": [
  {"data": {"name": "sEdges"},
   "transform": [
    {"lookup": "source", "from": {"data": {"name": "sNodes"}, "key": "id", "fields": ["x", "y"]}, "as": ["sx", "sy"]},
    {"lookup": "target", "from": {"data": {"name": "sNodes"}, "key": "id", "fields": ["x", "y"]}, "as": ["tx", "ty"]}
   ],
   "mark": {"type": "rule", "strokeWidth": 2.6, "opacity": 0.95},
   "encoding": {
    "x": {"field": "sx", "type": "quantitative", "scale": {"domain": [680, 1323], "nice": false, "zero": false}, "axis": {"values": [698.3, 758.3, 818.5, 879, 939, 999, 1059, 1119, 1179, 1239, 1298.5], "grid": true, "labels": false, "ticks": false, "domain": false, "title": null, "gridColor": "#ebebeb", "gridWidth": 2.4}},
    "y": {"field": "sy", "type": "quantitative", "scale": {"domain": [45, 796], "nice": false, "zero": false, "reverse": true}, "axis": {"values": [97.7, 223, 349, 475.5, 600.7, 727.5], "grid": true, "labels": false, "ticks": false, "domain": false, "title": null, "gridColor": "#ebebeb", "gridWidth": 2.4}},
    "x2": {"field": "tx"},
    "y2": {"field": "ty"},
    "stroke": {"field": "polarity", "type": "nominal", "scale": {"domain": ["positive", "negative"], "range": ["#a3a3a3", "#ee6e86"]},
      "legend": {"title": "polarity", "orient": "none", "legendX": 766, "legendY": 822, "direction": "horizontal", "titleOrient": "left", "titleFontSize": 22, "titleFontWeight": "normal", "titleColor": "#1a1a1a", "titlePadding": 16, "titleBaseline": "middle", "titleAnchor": "middle", "labelFontSize": 18, "labelColor": "#1a1a1a", "labelOffset": 14, "symbolType": "stroke", "symbolSize": 500, "symbolStrokeWidth": 3, "columnPadding": 8}}
   }},
  {"data": {"name": "sNodes"},
   "mark": {"type": "point", "filled": true, "stroke": "#3c3c3c", "strokeWidth": 1, "fillOpacity": 0.93},
   "encoding": {
    "x": {"field": "x", "type": "quantitative", "scale": {"domain": [680, 1323], "nice": false, "zero": false}, "axis": {"values": [698.3, 758.3, 818.5, 879, 939, 999, 1059, 1119, 1179, 1239, 1298.5], "grid": true, "labels": false, "ticks": false, "domain": false, "title": null, "gridColor": "#ebebeb", "gridWidth": 2.4}},
    "y": {"field": "y", "type": "quantitative", "scale": {"domain": [45, 796], "nice": false, "zero": false, "reverse": true}, "axis": {"values": [97.7, 223, 349, 475.5, 600.7, 727.5], "grid": true, "labels": false, "ticks": false, "domain": false, "title": null, "gridColor": "#ebebeb", "gridWidth": 2.4}},
    "fill": {"field": "party", "type": "nominal", "scale": {"domain": ["afd", "claim", "green", "spd", "cdu", "csu", "left", "without party"], "range": ["#1a1aff", "#d3d3d3", "#1c7a1c", "#ff1a1a", "#141414", "#6d9eeb", "#a23ef0", "#ffffff"]},
      "legend": {"title": "party", "orient": "none", "legendX": 238, "legendY": 823, "direction": "horizontal", "columns": 4, "titleOrient": "left", "titleFontSize": 22, "titleFontWeight": "normal", "titleColor": "#1a1a1a", "titlePadding": 15, "titleBaseline": "middle", "titleAnchor": "middle", "labelFontSize": 18, "labelColor": "#1a1a1a", "labelOffset": 15, "symbolSize": 210, "columnPadding": 18, "rowPadding": 7,
        "encode": {"symbols": {"update": {"stroke": {"value": "#3c3c3c"}, "strokeWidth": {"value": 1}}}}}},
    "shape": {"field": "party", "type": "nominal", "scale": {"domain": ["afd", "claim", "green", "spd", "cdu", "csu", "left", "without party"], "range": ["circle", "square", "circle", "circle", "circle", "circle", "circle", "circle"]},
      "legend": {"title": "party", "orient": "none", "legendX": 238, "legendY": 823, "direction": "horizontal", "columns": 4, "titleOrient": "left", "titleFontSize": 22, "titleFontWeight": "normal", "titleColor": "#1a1a1a", "titlePadding": 15, "titleBaseline": "middle", "titleAnchor": "middle", "labelFontSize": 18, "labelColor": "#1a1a1a", "labelOffset": 15, "symbolSize": 210, "columnPadding": 18, "rowPadding": 7,
        "encode": {"symbols": {"update": {"stroke": {"value": "#3c3c3c"}, "strokeWidth": {"value": 1}}}}}},
    "size": {"field": "degree", "type": "quantitative", "scale": {"domain": [1, 60], "range": [170, 3969], "zero": false}, "legend": null},
    "order": {"field": "degree", "sort": "descending"}
   }}
 ]}
]
}
]
}
